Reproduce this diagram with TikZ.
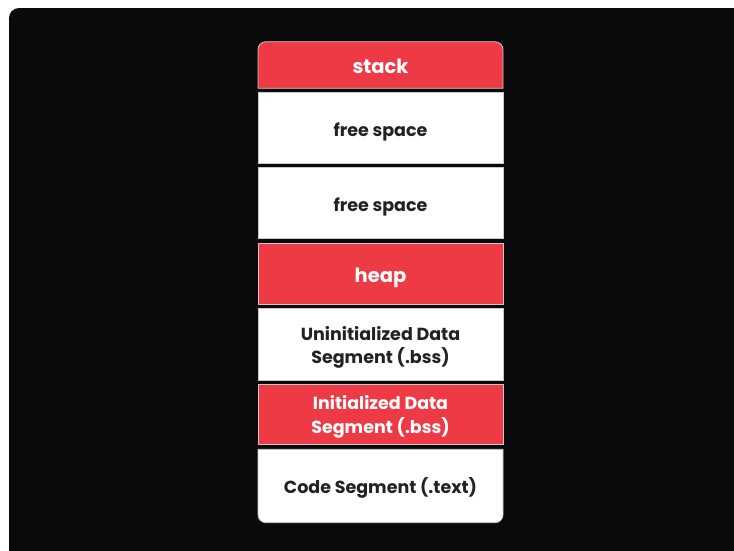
\documentclass[tikz,border=0pt]{standalone}
\usepackage{fontspec}
\setmainfont{Poppins}
\definecolor{bgblack}{HTML}{0A0A0D}
\definecolor{segred}{HTML}{EE3A45}
\definecolor{segtext}{HTML}{222222}
\definecolor{segedge}{HTML}{C8C8C8}
\begin{document}
\begin{tikzpicture}[x=1pt,y=-1pt,
  seg/.style={draw=segedge,line width=0.8pt},
  redseg/.style={seg,fill=segred},
  whiteseg/.style={seg,fill=white},
  redlabel/.style={text=white,font=\bfseries\fontsize{#1}{23.5}\selectfont,align=center},
  whitelabel/.style={text=segtext,font=\bfseries\fontsize{#1}{22.5}\selectfont,align=center}]
\useasboundingbox (0,0) rectangle (734,550);
\fill[white] (0,0) rectangle (734,550);
\fill[bgblack,rounded corners=10] (9,8) rectangle (746,562);
% stack
\path[redseg] (258,88.3) {[rounded corners=8] -- (258,41.7) -- (503,41.7)} -- (503,88.3) -- cycle;
\node[redlabel=19.5] (stack) at (380.5,66) {stack};
% free space 1
\path[whiteseg] (258,92.3) rectangle (503,163.3);
\node[whitelabel=17.5] (free1) at (380.5,131.5) {free space};
% free space 2
\path[whiteseg] (258,167.7) rectangle (503,238.7);
\node[whitelabel=17.5] (free2) at (380.5,207) {free space};
% heap
\path[redseg] (258,243.3) rectangle (503,304);
\node[redlabel=19.5] (heap) at (380.5,277.5) {heap};
% bss
\path[whiteseg] (258,308.3) rectangle (503,380);
\node[whitelabel=17.5] (bss) at (380.5,347.5) {Uninitialized Data\\Segment (.bss)};
% data
\path[redseg] (258,384.3) rectangle (503,444.3);
\node[redlabel=17.5] (data) at (380.5,417) {Initialized Data\\Segment (.bss)};
% code
\path[whiteseg] (258,449.3) {[rounded corners=8] -- (258,522.7) -- (503,522.7)} -- (503,449.3) -- cycle;
\node[whitelabel=17.5] (code) at (380.5,488) {Code Segment (.text)};
\end{tikzpicture}
\end{document}
